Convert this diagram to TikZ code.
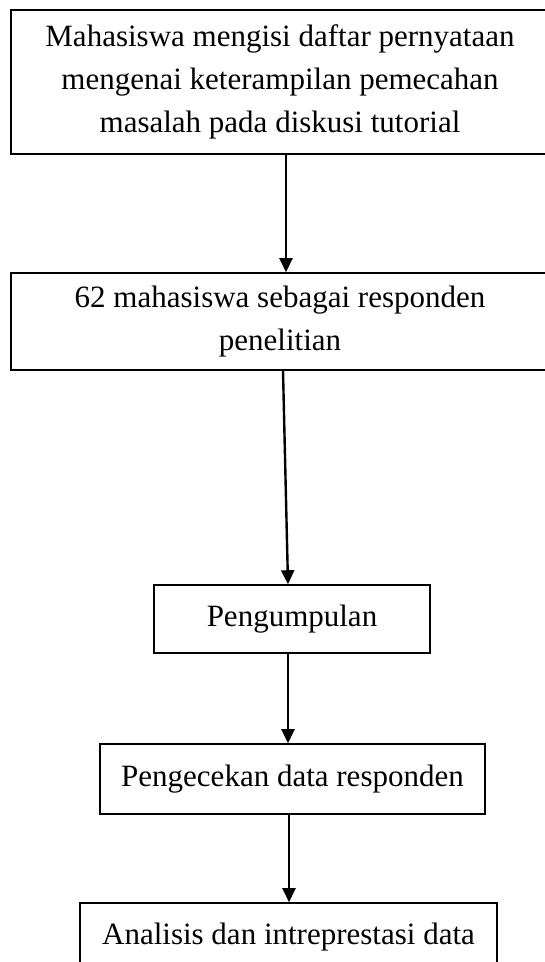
\documentclass[tikz,border=0pt]{standalone}
\usepackage{fontspec}
\setmainfont{Liberation Serif}
\usetikzlibrary{arrows.meta}
\begin{document}
\begin{tikzpicture}[x=1pt,y=-1pt,
  box/.style={draw=black,line width=1.6pt,align=center,font=\fontsize{31}{43}\selectfont,inner sep=0pt},
  arr/.style={line width=2.4pt,-{Triangle[width=13pt,length=14pt]}}]
\useasboundingbox (0,0) rectangle (545,962);
\node[box,minimum width=538pt,minimum height=144pt] (b1) at (280,82) {Mahasiswa mengisi daftar pernyataan\\mengenai keterampilan pemecahan\\masalah pada diskusi tutorial};
\node[box,minimum width=538pt,minimum height=97pt] (b2) at (280,321.5) {62 mahasiswa sebagai responden\\penelitian};
\node[box,minimum width=276pt,minimum height=68pt] (b3) at (292,619) {Pengumpulan};
\node[box,minimum width=385pt,minimum height=70pt] (b4) at (292.5,779) {Pengecekan data responden};
\node[box,minimum width=417pt,minimum height=68pt] (b5) at (288.5,937) {Analisis dan intreprestasi data};
\draw[arr] ([xshift=6pt]b1.south) -- ([xshift=6pt]b2.north);
\draw[arr] ([xshift=3pt]b2.south) -- ([xshift=-4pt]b3.north);
\draw[arr] ([xshift=-4pt]b3.south) -- ([xshift=-4.5pt]b4.north);
\draw[arr] ([xshift=-3.5pt]b4.south) -- ([xshift=0.5pt]b5.north);
\end{tikzpicture}
\end{document}
